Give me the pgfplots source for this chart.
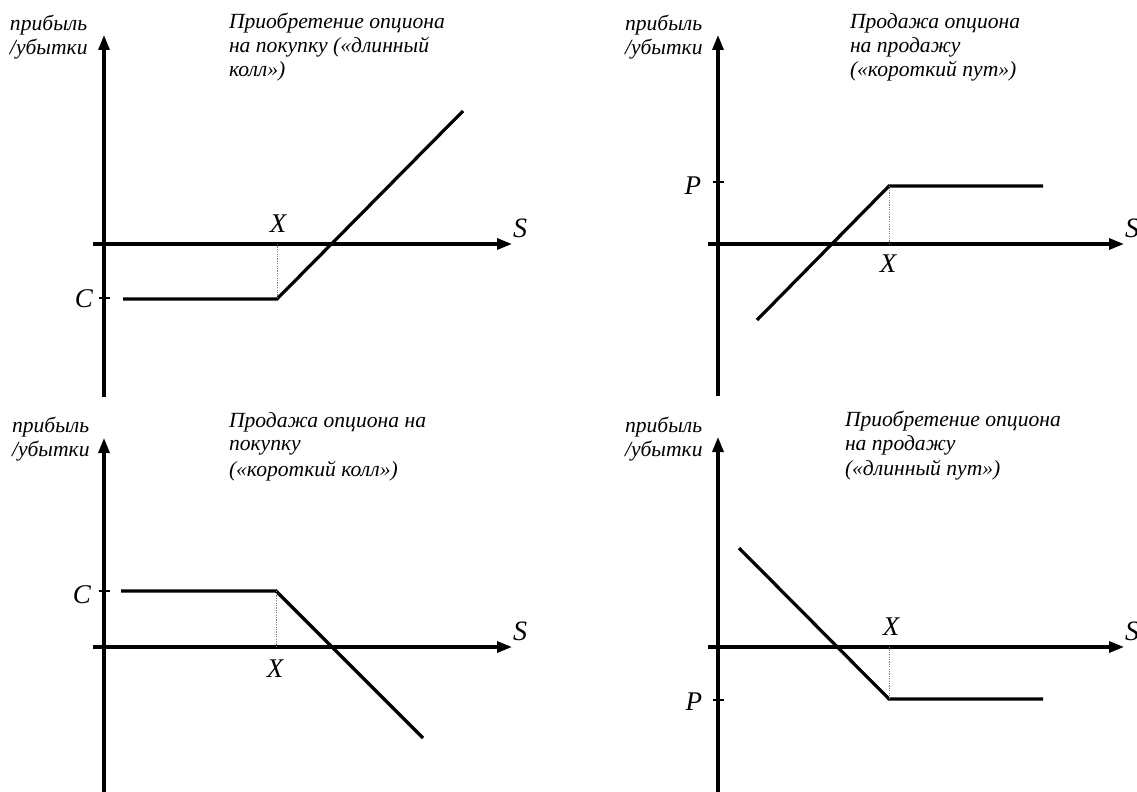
\documentclass[border=0pt]{standalone}
\usepackage{fontspec}
\setmainfont{Liberation Serif}
\usepackage{pgfplots}
\pgfplotsset{compat=1.18}
\usetikzlibrary{arrows.meta}
\newcommand\tit{\fontsize{10.8}{12}\selectfont\itshape}
\newcommand\lab{\fontsize{13.5}{15}\selectfont\itshape}
\newcommand\slab{\fontsize{14}{15}\selectfont\itshape}
\pgfplotsset{payoff/.style={
  x=0.5pt, y=0.5pt, axis lines=middle, enlargelimits=false, clip=false,
  xtick=\empty, yticklabels={{}}, tick align=center, major tick length=5.5pt,
  tick style={black, line width=0.7pt},
  axis line style={black, line width=1.6pt, -{Triangle[length=7.5pt,width=5.5pt]}},
  anchor=origin},
  payline/.style={black, line width=1.6pt, no marks},
  guide/.style={gray, line width=0.45pt, dash pattern=on 0.6pt off 0.6pt, no marks}
}
\begin{document}
\begin{tikzpicture}
\useasboundingbox (0,0) rectangle (568.5pt,-396pt);
% Panel 1: long call
\begin{axis}[payoff, at={(52pt,-122pt)}, xmin=-11, xmax=408, ymin=-153, ymax=209, ytick={-54}]
\addplot[payline] coordinates {(19,-55) (173,-55) (359,133)};
\addplot[guide] coordinates {(173,0) (173,-55)};
\end{axis}
% Panel 2: short put
\begin{axis}[payoff, at={(359pt,-122pt)}, xmin=-10, xmax=406, ymin=-152, ymax=209, ytick={62}]
\addplot[payline] coordinates {(39,-76) (171,58) (325,58)};
\addplot[guide] coordinates {(171,0) (171,58)};
\end{axis}
% Panel 3: short call
\begin{axis}[payoff, at={(52pt,-323.5pt)}, xmin=-11, xmax=408, ymin=-145, ymax=209, ytick={56}]
\addplot[payline] coordinates {(17,56) (172,56) (319,-91)};
\addplot[guide] coordinates {(172,0) (172,56)};
\end{axis}
% Panel 4: long put
\begin{axis}[payoff, at={(359pt,-323.5pt)}, xmin=-10, xmax=406, ymin=-145, ymax=210, ytick={-53}]
\addplot[payline] coordinates {(21,99) (171,-52) (325,-52)};
\addplot[guide] coordinates {(171,0) (171,-52)};
\end{axis}
\begin{scope}[x=0.5pt, y=-0.5pt, every node/.style={inner sep=0pt, outer sep=0pt}]
% y-axis labels
\node[anchor=base west, font=\tit] at (10,31) {прибыль};
\node[anchor=base west, font=\tit] at (10,55) {/убытки};
\node[anchor=base west, font=\tit] at (625,31) {прибыль};
\node[anchor=base west, font=\tit] at (625,55) {/убытки};
\node[anchor=base west, font=\tit] at (12,432) {прибыль};
\node[anchor=base west, font=\tit] at (12,456) {/убытки};
\node[anchor=base west, font=\tit] at (625,432) {прибыль};
\node[anchor=base west, font=\tit] at (625,456) {/убытки};
% titles
\node[anchor=base west, font=\tit] at (229,29) {Приобретение опциона};
\node[anchor=base west, font=\tit] at (229,53) {на покупку («длинный};
\node[anchor=base west, font=\tit] at (229,77) {колл»)};
\node[anchor=base west, font=\tit] at (850,29) {Продажа опциона};
\node[anchor=base west, font=\tit] at (850,53) {на продажу};
\node[anchor=base west, font=\tit] at (850,77) {(«короткий пут»)};
\node[anchor=base west, font=\tit] at (229,427) {Продажа опциона на};
\node[anchor=base west, font=\tit] at (229,451) {покупку};
\node[anchor=base west, font=\tit] at (229,476) {(«короткий колл»)};
\node[anchor=base west, font=\tit] at (845,426) {Приобретение опциона};
\node[anchor=base west, font=\tit] at (845,450) {на продажу};
\node[anchor=base west, font=\tit] at (845,475) {(«длинный пут»)};
% X labels
\node[anchor=base, font=\lab] at (278,233) {X};
\node[anchor=base, font=\lab] at (888,272) {X};
\node[anchor=base, font=\lab] at (275,677) {X};
\node[anchor=base, font=\lab] at (891,635) {X};
% C and P labels
\node[anchor=base east, font=\lab] at (93,307) {C};
\node[anchor=base east, font=\lab] at (701,195) {P};
\node[anchor=base east, font=\lab] at (91,603) {C};
\node[anchor=base east, font=\lab] at (702,710) {P};
% S labels
\node[anchor=base west, font=\slab] at (513,238) {S};
\node[anchor=base west, font=\slab] at (1125,238) {S};
\node[anchor=base west, font=\slab] at (513,640) {S};
\node[anchor=base west, font=\slab] at (1125,640) {S};
\end{scope}
\end{tikzpicture}
\end{document}
